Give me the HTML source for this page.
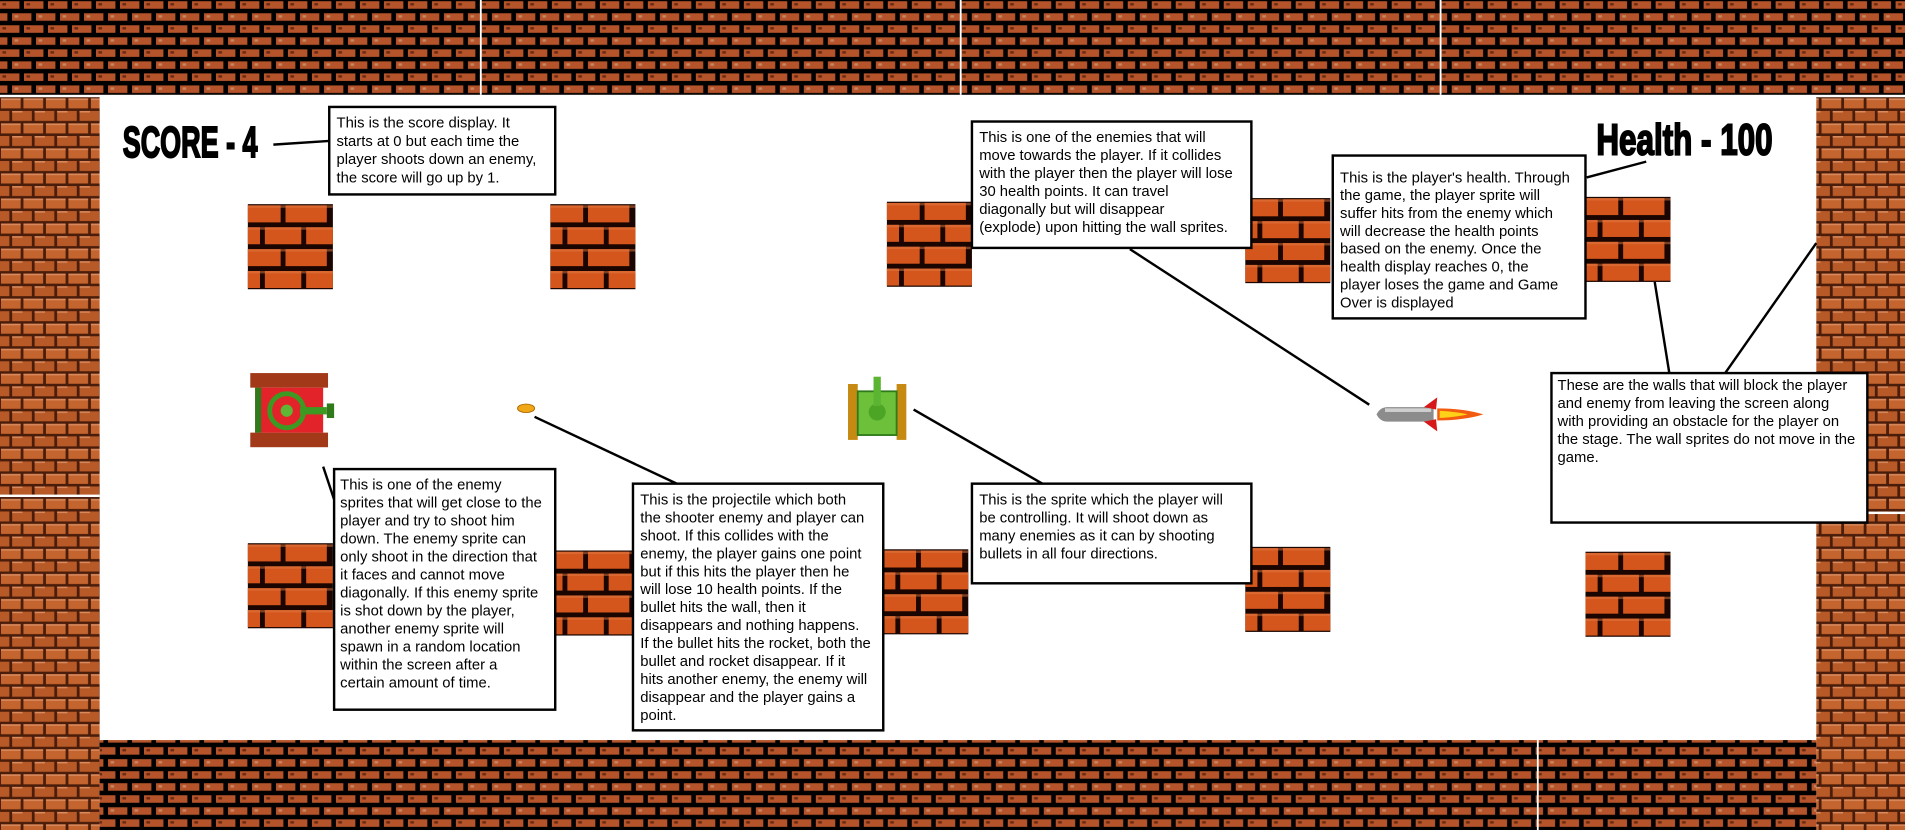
<!DOCTYPE html>
<html><head><meta charset="utf-8"><style>
html,body{margin:0;padding:0;background:#fff;}
svg{display:block;}
text{font-family:"Liberation Sans",Arial,sans-serif;fill:#000;}
</style></head><body>
<svg width="1905" height="830" viewBox="0 0 1568 683" preserveAspectRatio="none" xmlns="http://www.w3.org/2000/svg">
<defs>
<pattern id="hw" x="0" y="0" width="19.75" height="19.8" patternUnits="userSpaceOnUse">
<rect width="19.75" height="19.8" fill="#000"/>
<rect x="0" y="1" width="16" height="6.2" fill="#b5542a"/>
<rect x="2" y="2.5" width="3" height="2" fill="#6a2a10"/>
<rect x="-9.9" y="10.9" width="16" height="6.2" fill="#b5542a"/>
<rect x="9.9" y="10.9" width="16" height="6.2" fill="#b5542a"/>
<rect x="12" y="12.5" width="3" height="2" fill="#c98462"/>
</pattern>
<pattern id="vw" x="0" y="80" width="18.5" height="20.6" patternUnits="userSpaceOnUse">
<rect width="18.5" height="20.6" fill="#4a1c0a"/>
<rect x="0.8" y="1" width="16.2" height="8.2" fill="#c4642e"/>
<rect x="0.8" y="1" width="16.2" height="1.3" fill="#d98a5e"/>
<rect x="-8.5" y="11.3" width="16.2" height="8.2" fill="#b85a28"/>
<rect x="10" y="11.3" width="16.2" height="8.2" fill="#b85a28"/>
<rect x="10" y="11.3" width="16.2" height="1.3" fill="#d98a5e"/>
</pattern>
<g id="brick">
<rect width="70" height="70" fill="#1a0500"/>
<rect x="0" y="1" width="27" height="14" fill="#d4561c"/><rect x="31" y="1" width="34" height="14" fill="#d4561c"/>
<rect x="0" y="19" width="10" height="14" fill="#d4561c"/><rect x="14" y="19" width="30" height="14" fill="#d4561c"/><rect x="48" y="19" width="22" height="14" fill="#d4561c"/>
<rect x="0" y="37" width="27" height="14" fill="#d4561c"/><rect x="31" y="37" width="34" height="14" fill="#d4561c"/>
<rect x="0" y="55" width="10" height="14" fill="#d4561c"/><rect x="14" y="55" width="30" height="14" fill="#d4561c"/><rect x="48" y="55" width="22" height="14" fill="#d4561c"/>
<rect x="0" y="1" width="70" height="2" fill="#e07a44" opacity="0.5"/>
<rect x="0" y="19" width="70" height="2" fill="#e07a44" opacity="0.5"/>
<rect x="0" y="37" width="70" height="2" fill="#e07a44" opacity="0.5"/>
<rect x="0" y="55" width="70" height="2" fill="#e07a44" opacity="0.5"/>
</g>
</defs>

<rect width="1568" height="683" fill="#fff"/>
<rect x="0" y="0" width="1568" height="78" fill="url(#hw)"/>
<rect x="395" y="0" width="1.5" height="78" fill="#fff"/>
<rect x="790" y="0" width="1.5" height="78" fill="#fff"/>
<rect x="1185" y="0" width="1.5" height="78" fill="#fff"/>
<rect x="0" y="80" width="82" height="603" fill="url(#vw)"/>
<rect x="0" y="407" width="82" height="2" fill="#fff"/>
<rect x="1495" y="80" width="73" height="603" fill="url(#vw)"/>
<rect x="1495" y="421" width="73" height="2" fill="#fff"/>
<rect x="82" y="609" width="1413" height="74" fill="url(#hw)"/>
<rect x="1265" y="609" width="1.5" height="74" fill="#fff"/>

<use href="#brick" x="204" y="168"/>
<use href="#brick" x="453" y="168"/>
<use href="#brick" x="730" y="166"/>
<use href="#brick" x="1025" y="163"/>
<use href="#brick" x="1305" y="162"/>
<use href="#brick" x="204" y="447"/>
<use href="#brick" x="453" y="453"/>
<use href="#brick" x="727" y="452"/>
<use href="#brick" x="1025" y="450"/>
<use href="#brick" x="1305" y="454"/>

<text x="101" y="129" font-size="36" font-weight="bold" stroke="#000" stroke-width="1.6" textLength="111" lengthAdjust="spacingAndGlyphs">SCORE - 4</text>
<text x="1314" y="127" font-size="36" font-weight="bold" stroke="#000" stroke-width="1.6" textLength="145" lengthAdjust="spacingAndGlyphs">Health - 100</text>

<g stroke="#000" stroke-width="2" fill="none">
<line x1="225" y1="119" x2="271" y2="116"/>
<line x1="266" y1="384" x2="278" y2="420"/>
<line x1="440" y1="343" x2="557" y2="398"/>
<line x1="752" y1="337" x2="858" y2="398"/>
<line x1="930" y1="205" x2="1127" y2="333"/>
<line x1="1355" y1="133" x2="1306" y2="146"/>
<line x1="1362" y1="232" x2="1374" y2="307"/>
<line x1="1495" y1="200" x2="1420" y2="307"/>
</g>

<g>
<rect x="206" y="307" width="64" height="12" fill="#a23a1a"/>
<rect x="206" y="356" width="64" height="12" fill="#a23a1a"/>
<rect x="210" y="319" width="56" height="37" fill="#e3232a"/>
<rect x="210" y="319" width="5" height="37" fill="#2f7a1a"/>
<circle cx="236" cy="338" r="14" fill="none" stroke="#3c9a22" stroke-width="4"/>
<circle cx="236" cy="338" r="5" fill="#5fb534"/>
<rect x="247" y="335" width="22" height="6" fill="#3c9a22"/>
<rect x="269" y="332" width="6" height="12" fill="#2f7a1a"/>
</g>
<ellipse cx="433" cy="336" rx="7" ry="3.5" fill="#f0a818" stroke="#b06a00" stroke-width="0.8"/>
<g>
<rect x="698" y="316" width="8" height="46" fill="#c68a12"/>
<rect x="738" y="316" width="8" height="46" fill="#c68a12"/>
<rect x="706" y="322" width="32" height="36" fill="#6cc03a"/>
<rect x="706" y="322" width="32" height="36" fill="none" stroke="#2f7a1a" stroke-width="1.5"/>
<circle cx="722" cy="339" r="7" fill="#4da526"/>
<rect x="719" y="310" width="6" height="24" fill="#5bb532"/>
</g>
<g>
<path d="M1133 341 Q1136 335 1142 335 L1180 335 L1180 347 L1142 347 Q1136 347 1133 341 Z" fill="#8c8c8c"/>
<rect x="1140" y="336" width="38" height="3" fill="#cfcfcf"/>
<path d="M1172 335 L1183 327 L1182 337 Z M1172 347 L1183 355 L1182 345 Z" fill="#d81818"/>
<path d="M1183 336 Q1205 336 1221 341 Q1205 346 1183 346 Z" fill="#f25c10"/>
<path d="M1185 338 Q1200 339 1208 341 Q1200 343 1185 344 Z" fill="#ffd21a"/>
</g>

<g stroke="#000" stroke-width="2" fill="#fff">
<rect x="271" y="88" width="186" height="72"/>
<rect x="800" y="100" width="230" height="104"/>
<rect x="1097" y="128" width="208" height="134"/>
<rect x="1277" y="307" width="260" height="123"/>
<rect x="275" y="386" width="182" height="198"/>
<rect x="521" y="398" width="206" height="203"/>
<rect x="800" y="398" width="230" height="82"/>
</g>

<g font-size="12.2">
<text x="277" y="105"><tspan x="277">This is the score display. It</tspan><tspan x="277" dy="15">starts at 0 but each time the</tspan><tspan x="277" dy="15">player shoots down an enemy,</tspan><tspan x="277" dy="15">the score will go up by 1.</tspan></text>

<text x="806" y="117"><tspan x="806">This is one of the enemies that will</tspan><tspan x="806" dy="14.8">move towards the player. If it collides</tspan><tspan x="806" dy="14.8">with the player then the player will lose</tspan><tspan x="806" dy="14.8">30 health points. It can travel</tspan><tspan x="806" dy="14.8">diagonally but will disappear</tspan><tspan x="806" dy="14.8">(explode) upon hitting the wall sprites.</tspan></text>

<text x="1103" y="150"><tspan x="1103">This is the player's health. Through</tspan><tspan x="1103" dy="14.7">the game, the player sprite will</tspan><tspan x="1103" dy="14.7">suffer hits from the enemy which</tspan><tspan x="1103" dy="14.7">will decrease the health points</tspan><tspan x="1103" dy="14.7">based on the enemy. Once the</tspan><tspan x="1103" dy="14.7">health display reaches 0, the</tspan><tspan x="1103" dy="14.7">player loses the game and Game</tspan><tspan x="1103" dy="14.7">Over is displayed</tspan></text>

<text x="1282" y="321"><tspan x="1282">These are the walls that will block the player</tspan><tspan x="1282" dy="14.8">and enemy from leaving the screen along</tspan><tspan x="1282" dy="14.8">with providing an obstacle for the player on</tspan><tspan x="1282" dy="14.8">the stage. The wall sprites do not move in the</tspan><tspan x="1282" dy="14.8">game.</tspan></text>

<text x="280" y="403"><tspan x="280">This is one of the enemy</tspan><tspan x="280" dy="14.8">sprites that will get close to the</tspan><tspan x="280" dy="14.8">player and try to shoot him</tspan><tspan x="280" dy="14.8">down. The enemy sprite can</tspan><tspan x="280" dy="14.8">only shoot in the direction that</tspan><tspan x="280" dy="14.8">it faces and cannot move</tspan><tspan x="280" dy="14.8">diagonally. If this enemy sprite</tspan><tspan x="280" dy="14.8">is shot down by the player,</tspan><tspan x="280" dy="14.8">another enemy sprite will</tspan><tspan x="280" dy="14.8">spawn in a random location</tspan><tspan x="280" dy="14.8">within the screen after a</tspan><tspan x="280" dy="14.8">certain amount of time.</tspan></text>

<text x="527" y="415"><tspan x="527">This is the projectile which both</tspan><tspan x="527" dy="14.8">the shooter enemy and player can</tspan><tspan x="527" dy="14.8">shoot. If this collides with the</tspan><tspan x="527" dy="14.8">enemy, the player gains one point</tspan><tspan x="527" dy="14.8">but if this hits the player then he</tspan><tspan x="527" dy="14.8">will lose 10 health points. If the</tspan><tspan x="527" dy="14.8">bullet hits the wall, then it</tspan><tspan x="527" dy="14.8">disappears and nothing happens.</tspan><tspan x="527" dy="14.8">If the bullet hits the rocket, both the</tspan><tspan x="527" dy="14.8">bullet and rocket disappear. If it</tspan><tspan x="527" dy="14.8">hits another enemy, the enemy will</tspan><tspan x="527" dy="14.8">disappear and the player gains a</tspan><tspan x="527" dy="14.8">point.</tspan></text>

<text x="806" y="415"><tspan x="806">This is the sprite which the player will</tspan><tspan x="806" dy="14.8">be controlling. It will shoot down as</tspan><tspan x="806" dy="14.8">many enemies as it can by shooting</tspan><tspan x="806" dy="14.8">bullets in all four directions.</tspan></text>
</g>
</svg>
</body></html>
